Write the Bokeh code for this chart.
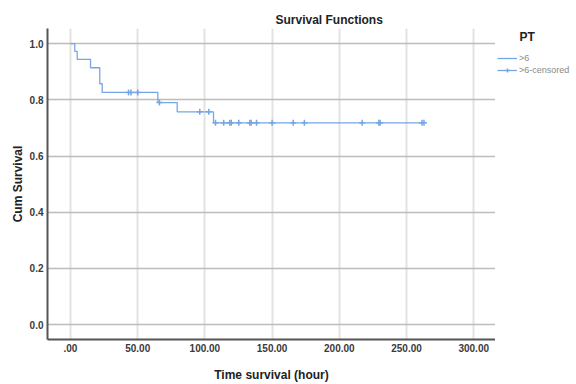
from bokeh.plotting import figure
from bokeh.models import FixedTicker, Legend, LegendItem, Title, Label, Range1d
from bokeh.layouts import row
from bokeh.embed import file_html
from bokeh.resources import INLINE

# ---- data ----
event_times = [0.0, 3.2, 5.0, 14.9, 21.8, 23.6, 65.0, 79.4, 106.4, 263.5]
event_surv = [1.0, 0.972, 0.944, 0.914, 0.857, 0.826, 0.790, 0.757, 0.718, 0.718]

censor_times = [43.2, 45.0, 50.0, 66.2, 96.2, 102.9, 107.9, 114.0, 118.5, 119.6,
                125.2, 133.4, 134.4, 138.4, 150.0, 165.7, 174.0, 217.0, 229.4,
                230.3, 261.5, 263.0]
censor_surv = [0.826, 0.826, 0.826, 0.790, 0.757, 0.757, 0.718, 0.718, 0.718, 0.718,
               0.718, 0.718, 0.718, 0.718, 0.718, 0.718, 0.718, 0.718, 0.718,
               0.718, 0.718, 0.718]

x_ticks = [0, 50, 100, 150, 200, 250, 300]
x_tick_labels = [".00", "50.00", "100.00", "150.00", "200.00", "250.00", "300.00"]
y_ticks = [0.0, 0.2, 0.4, 0.6, 0.8, 1.0]
y_tick_labels = ["0.0", "0.2", "0.4", "0.6", "0.8", "1.0"]

series_label = ">6"
censor_label = ">6-censored"
legend_title = "PT"

FONT = "Liberation Sans"
LINE = "#76a5e3"

# ---- main plot ----
p = figure(width=495, height=384, output_backend="svg", toolbar_location=None,
           x_range=(-17.1, 316.2), y_range=(-0.0525, 1.0535),
           min_border_left=47, min_border_right=0, min_border_top=28,
           min_border_bottom=40)
p.outline_line_color = None
p.background_fill_color = "white"
p.border_fill_color = "white"

title = Title(text="Survival Functions", align="left", offset=228,
              text_font=FONT, text_font_size="12px", text_font_style="bold",
              text_color="#222222", standoff=4)
p.add_layout(title, "above")

p.xgrid.ticker = FixedTicker(ticks=x_ticks)
p.ygrid.ticker = FixedTicker(ticks=y_ticks)
p.xgrid.grid_line_color = "#e2e2e2"
p.xgrid.grid_line_width = 2
p.ygrid.grid_line_color = "#bcbcbc"
p.ygrid.grid_line_width = 1.5

for ax in (p.xaxis[0], p.yaxis[0]):
    ax.axis_line_color = "#555555"
    ax.axis_line_width = 2
    ax.major_tick_line_color = None
    ax.minor_tick_line_color = None
    ax.major_tick_out = 0
    ax.major_tick_in = 0
    ax.major_label_text_font = FONT
    ax.major_label_text_font_size = "10px"
    ax.major_label_text_font_style = "bold"
    ax.major_label_text_color = "#3a3a3a"
    ax.axis_label_text_font = FONT
    ax.axis_label_text_font_size = "12px"
    ax.axis_label_text_font_style = "bold"
    ax.axis_label_text_color = "#222222"

p.xaxis.ticker = FixedTicker(ticks=x_ticks)
p.xaxis.major_label_overrides = {t: s for t, s in zip(x_ticks, x_tick_labels)}
p.xaxis.major_label_standoff = 4
p.xaxis.axis_label = "Time survival (hour)"
p.xaxis.axis_label_standoff = 13

p.yaxis.ticker = FixedTicker(ticks=y_ticks)
p.yaxis.major_label_overrides = {t: s for t, s in zip(y_ticks, y_tick_labels)}
p.yaxis.major_label_standoff = 4
p.yaxis.axis_label = "Cum Survival"
p.yaxis.axis_label_standoff = 2

p.step(event_times, event_surv, mode="after", line_color=LINE, line_width=1.3)
p.scatter(censor_times, censor_surv, marker="cross", size=6,
          line_color=LINE, line_width=1.5)

# ---- legend panel (right strip); its frame is aligned with the main frame ----
q = figure(width=81, height=384, output_backend="svg", toolbar_location=None,
           x_axis_type=None, y_axis_type=None,
           x_range=Range1d(0, 81), y_range=Range1d(344, 28),
           min_border=0)
q.outline_line_color = None
q.grid.visible = False
q.background_fill_color = "white"
q.border_fill_color = "white"

# off-screen stand-ins so the legend has glyphs to draw
leg_step = q.step(x=[-100, -90], y=[-100, -100], mode="after",
                  line_color=LINE, line_width=1.3)
leg_cross = q.scatter(x=[-100], y=[-100], marker="cross", size=10,
                      line_color=LINE, line_width=1.3)

legend = Legend(items=[LegendItem(label=series_label, renderers=[leg_step]),
                       LegendItem(label=censor_label, renderers=[leg_step, leg_cross])],
                location=(2, 264), padding=0, margin=0, spacing=2,
                glyph_width=20, glyph_height=10, label_height=10,
                label_standoff=2, border_line_color=None,
                background_fill_alpha=0,
                label_text_font=FONT, label_text_font_size="9px",
                label_text_color="#8a8a8a")
q.add_layout(legend)

q.add_layout(Label(x=24, y=37, text=legend_title, text_font=FONT,
                   text_font_size="12px", text_font_style="bold",
                   text_color="#222222", text_align="left",
                   text_baseline="middle"))

layout = row(p, q, spacing=0)
open("out.html", "w").write(file_html(layout, INLINE))
